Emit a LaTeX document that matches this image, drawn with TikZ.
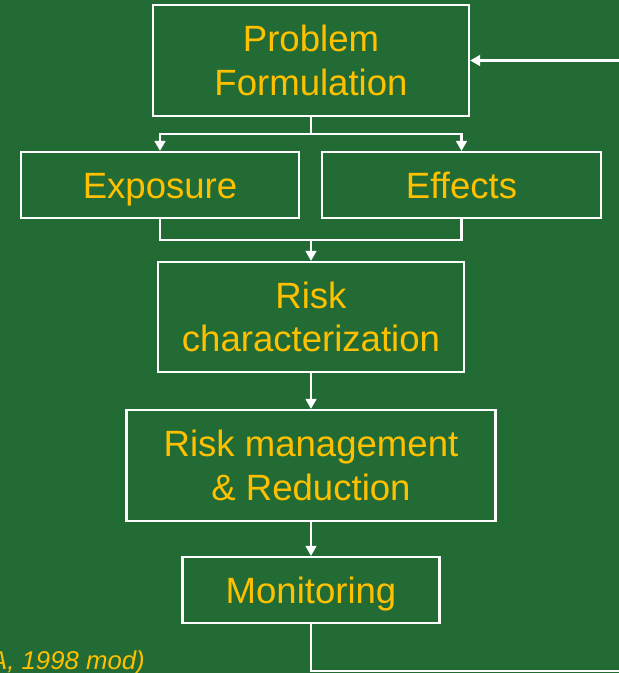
\documentclass[tikz,border=0pt]{standalone}
\usepackage{fontspec}
\setmainfont{Liberation Sans}
\usepackage{tikz}
\usetikzlibrary{arrows.meta}
\definecolor{slidegreen}{RGB}{34,107,53}
\definecolor{labelyellow}{RGB}{255,192,0}
\tikzset{
	stage/.style={draw=white, line width=1.6pt, text=labelyellow, align=center, inner sep=0pt,
		font=\fontsize{26}{31}\selectfont},
	oneline/.style={text height=18.6pt, text depth=0pt},
	flow/.style={white, line width=1.5pt}
}

\begin{document}
\begin{tikzpicture}[x=0.025cm, y=-0.025cm, >={Triangle[length=0.25cm, width=0.27cm]}]
	% the slide background
	\useasboundingbox (0,0) rectangle (619,673);
	\clip (0,0) rectangle (619,673);
	\fill[slidegreen] (0,0) rectangle (619,673);
	% the stages
	\node[stage, minimum width=7.9cm, minimum height=2.775cm] (problem) at (311,60.5) {Problem\\Formulation};
	\node[stage, oneline, minimum width=6.95cm, minimum height=1.65cm] (exposure) at (160,185) {Exposure};
	\node[stage, oneline, minimum width=6.975cm, minimum height=1.65cm] (effects) at (461.5,185) {Effects};
	\node[stage, minimum width=7.65cm, minimum height=2.75cm] (riskchar) at (311,317) {Risk\\characterization};
	\node[stage, minimum width=9.225cm, minimum height=2.775cm] (riskmgmt) at (311,465.5) {Risk management\\\& Reduction};
	\node[stage, oneline, minimum width=6.425cm, minimum height=1.65cm] (monitor) at (311,590) {Monitoring};
	% split into exposure and effects
	\coordinate (split) at (311,134);
	\draw[flow] (problem.south) -- (split);
	\draw[flow, ->] (split) -| (exposure.north);
	\draw[flow, ->] (split) -| (effects.north);
	% merge into risk characterization
	\coordinate (merge) at (311,240);
	\draw[flow] (exposure.south) |- (merge);
	\draw[flow] (effects.south) |- (merge);
	\draw[flow, ->] (merge) -- (riskchar.north);
	% down the chain
	\draw[flow, ->] (riskchar) -- (riskmgmt);
	\draw[flow, ->] (riskmgmt) -- (monitor);
	% feedback loop back to the top
	\coordinate (loopend) at (660,671);
	\draw[flow, ->] (monitor.south) |- (loopend) |- (problem.east);
	% source
	\node[text=labelyellow, anchor=base east, inner sep=0pt, font=\fontsize{18.3}{22}\selectfont\itshape] (source) at (145,669) {(EPA, 1998 mod)};
\end{tikzpicture}
\end{document}
